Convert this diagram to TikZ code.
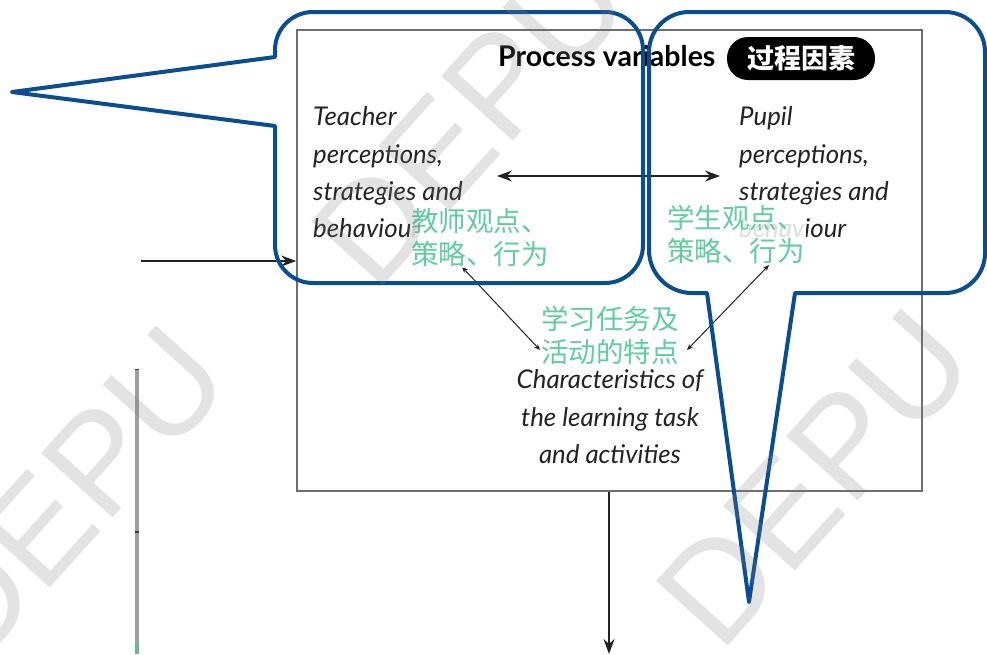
\documentclass[tikz,border=0pt]{standalone}
\usepackage{fontspec}
\setmainfont{Lato}
\newfontfamily\cjk{Noto Sans CJK SC}
\newfontfamily\wmfont{Liberation Sans}
\usetikzlibrary{arrows.meta}
\definecolor{cblue}{RGB}{10,77,145}
\definecolor{mint}{RGB}{95,205,160}
\definecolor{boxgray}{RGB}{110,110,110}
\definecolor{ink}{RGB}{35,35,35}
\tikzset{
  itxt/.style={inner sep=0pt, text=ink, font=\fontsize{25.8}{37.5}\selectfont\itshape},
  gtxt/.style={inner sep=1pt, text=mint, fill=white, fill opacity=0.85, text opacity=1,
               align=left, font=\cjk\fontsize{27.5}{33}\selectfont},
  arr/.style={draw=ink, line width=1.2pt, -{Stealth[length=15pt,width=11pt,inset=5pt]}},
  darr/.style={draw=ink, line width=1.2pt, {Stealth[length=15pt,width=11pt,inset=5pt]}-{Stealth[length=15pt,width=11pt,inset=5pt]}},
  sarr/.style={draw=ink, line width=1pt, {Stealth[length=6pt,width=5pt]}-{Stealth[length=6pt,width=5pt]}},
  bubble/.style={draw=cblue, line width=4pt, line join=round, line cap=round},
  wm/.style={font=\wmfont\fontsize{140}{140}\selectfont, text=gray, text opacity=0.22, inner sep=0pt}
}
\begin{document}
\begin{tikzpicture}[x=1pt,y=-1pt]
\useasboundingbox (0,0) rectangle (987,654);
\fill[white] (0,0) rectangle (987,654);

% main box
\node[draw=boxgray, line width=1.6pt, minimum width=625pt, minimum height=461pt, inner sep=0pt] (box) at (609.5,260.5) {};

% title
\node[inner sep=0pt, anchor=base west, font=\fontsize{28.5}{30}\selectfont\bfseries, text=black] (title) at (498,66) {Process variables};
\node[fill=black, rounded corners=21pt, minimum width=148pt, minimum height=43pt, inner sep=0pt,
      text=white, font=\cjk\bfseries\fontsize{27}{30}\selectfont] (pill) at (801,58.5) {过程因素};

% teacher
\node[itxt, anchor=base west] (t1) at (313,125) {Teacher};
\node[itxt, anchor=base west] (t2) at (313,163) {perceptions,};
\node[itxt, anchor=base west] (t3) at (313,200) {strategies and};
\node[itxt, anchor=base west] (t4) at (313,237) {behaviour};

% pupil
\node[itxt, anchor=base west] (p1) at (739,125) {Pupil};
\node[itxt, anchor=base west] (p2) at (739,163) {perceptions,};
\node[itxt, anchor=base west] (p3) at (739,200) {strategies and};
\node[itxt, anchor=base west] (p4) at (739,237) {behaviour};

% characteristics
\node[itxt, anchor=base] (c1) at (610,388) {Characteristics of};
\node[itxt, anchor=base] (c2) at (610,426) {the learning task};
\node[itxt, anchor=base] (c3) at (610,463) {and activities};

% connectors
\coordinate (ta) at (497,176);
\coordinate (pa) at (720,176);
\draw[darr] (ta) -- (pa);
\coordinate (tl) at (462,267);
\coordinate (cl) at (540,350);
\draw[sarr] (cl) -- (tl);
\coordinate (pr) at (769,265);
\coordinate (cr) at (687,350);
\draw[sarr] (cr) -- (pr);
\coordinate (lin) at (141,261);
\draw[arr] (lin) -- (lin -| box.west);
\coordinate (dout) at (609,654);
\draw[arr] (box.south -| dout) -- (dout);

% left gray bar
\coordinate (gb1) at (137,369);
\coordinate (gb2) at (137,654);
\draw[line width=4pt, black!38] (gb1) -- (gb2);
\draw[line width=1.5pt, black!75] (135,369.5) -- (139,369.5);
\draw[line width=1.5pt, black!75] (135,532) -- (139,532);
\draw[line width=4pt, mint!70!gray] (137,642) -- (137,654);

% green annotations
\node[gtxt, anchor=north west] (g1) at (410,207) {教师观点、\\策略、行为};
\node[gtxt, anchor=north west] (g2) at (666,204) {学生观点、\\策略、行为};
\node[gtxt, anchor=north west] (g3) at (540,305) {学习任务及\\活动的特点};

% callouts
\draw[bubble] (275,57) -- (275,50) arc[start angle=180,end angle=270,radius=38] -- (605,12)
  arc[start angle=270,end angle=360,radius=38] -- (643,245)
  arc[start angle=0,end angle=90,radius=38] -- (313,283)
  arc[start angle=90,end angle=180,radius=38] -- (275,126) -- (12,92) -- cycle;
\draw[bubble] (707,293) -- (749,602) -- (795,293) -- (945,293)
  arc[start angle=90,end angle=0,radius=40] -- (985,52)
  arc[start angle=0,end angle=-90,radius=40] -- (689,12)
  arc[start angle=270,end angle=180,radius=40] -- (649,250)
  arc[start angle=180,end angle=90,radius=43] -- cycle;

% watermarks
\node[wm, rotate=48] (w1) at (470,118) {DEPU};
\node[wm, rotate=48] (w2) at (70,495) {DEPU};
\node[wm, rotate=48] (w3) at (815,478) {DEPU};
\end{tikzpicture}
\end{document}
